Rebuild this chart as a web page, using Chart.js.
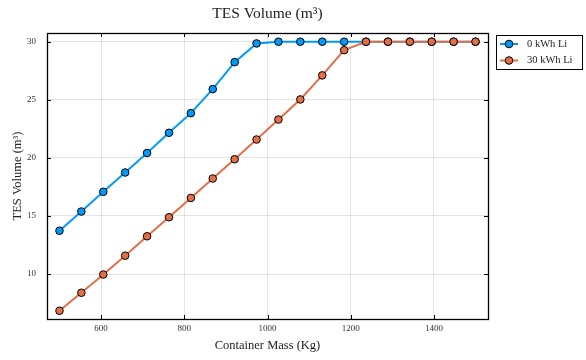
<!DOCTYPE html>
<html>
<head>
<meta charset="utf-8">
<title>TES Volume</title>
<script src="https://cdn.jsdelivr.net/npm/chart.js@4"></script>
<style>
    body { margin: 0; background: #ffffff; }
    #wrap { width: 586px; height: 360px; }
</style>
</head>
<body>
<div id="wrap"><canvas id="tesChart" width="586" height="360"></canvas></div>
<script>

// ======================================================
// Data
// ======================================================

const containerMass = [
    500, 552.6, 605.3, 657.9, 710.5, 763.2, 815.8, 868.4, 921.1, 973.7,
    1026.3, 1078.9, 1131.6, 1184.2, 1236.8, 1289.5, 1342.1, 1394.7, 1447.4, 1500
];

const volume0kWh = [
    13.73, 15.38, 17.08, 18.74, 20.42, 22.16, 23.85, 25.92, 28.24, 29.85,
    30, 30, 30, 30, 30, 30, 30, 30, 30, 30
];

const volume30kWh = [
    6.84, 8.39, 9.96, 11.58, 13.25, 14.89, 16.55, 18.22, 19.88, 21.58,
    23.3, 25.03, 27.1, 29.27, 30, 30, 30, 30, 30, 30
];

const seriesNames = ["0 kWh Li", "30 kWh Li"];

const xTicks = [600, 800, 1000, 1200, 1400];
const yTicks = [10, 15, 20, 25, 30];

// ======================================================
// Helpers
// ======================================================

const FONT = "'Liberation Serif', 'DejaVu Serif', serif";

function toPoints(xs, ys) {
    return xs.map((x, i) => ({ x: x, y: ys[i] }));
}

// title centred over the plot box
const titlePlugin = {
    id: "plotTitle",
    afterDraw(chart) {
        const ctx = chart.ctx;
        const a = chart.chartArea;
        ctx.save();
        ctx.fillStyle = "#222";
        ctx.font = "15.5px " + FONT;
        ctx.textAlign = "center";
        ctx.textBaseline = "middle";
        ctx.fillText("TES Volume (m³)", (a.left + a.right) / 2, 14);
        ctx.restore();
    }
};

// box frame with inward ticks on all sides
const framePlugin = {
    id: "frameBox",
    afterDatasetsDraw(chart) {
        const ctx = chart.ctx;
        const a = chart.chartArea;
        const xs = chart.scales.x;
        const ys = chart.scales.y;
        ctx.save();
        ctx.strokeStyle = "#000";
        ctx.lineWidth = 1;
        ctx.beginPath();
        xTicks.forEach(v => {
            let px = Math.round(xs.getPixelForValue(v)) + 0.5;
            ctx.moveTo(px, a.bottom); ctx.lineTo(px, a.bottom - 4);
            ctx.moveTo(px, a.top); ctx.lineTo(px, a.top + 4);
        });
        yTicks.forEach(v => {
            let py = Math.round(ys.getPixelForValue(v)) + 0.5;
            ctx.moveTo(a.left, py); ctx.lineTo(a.left + 4, py);
            ctx.moveTo(a.right, py); ctx.lineTo(a.right - 4, py);
        });
        ctx.stroke();
        ctx.lineWidth = 1.3;
        ctx.strokeRect(Math.round(a.left) + 0.5, Math.round(a.top) + 0.5,
            Math.round(a.right - a.left), Math.round(a.bottom - a.top));
        ctx.restore();
    }
};

// legend box at top right
const legendPlugin = {
    id: "boxLegend",
    afterDraw(chart) {
        const ctx = chart.ctx;
        const bx = 496.5, by = 35.5, bw = 86, bh = 34;
        ctx.save();
        ctx.fillStyle = "#fff";
        ctx.fillRect(bx, by, bw, bh);
        ctx.strokeStyle = "#000";
        ctx.lineWidth = 1;
        ctx.strokeRect(bx, by, bw, bh);
        chart.data.datasets.forEach((ds, i) => {
            let y = 44 + i * 16.5;
            ctx.strokeStyle = ds.borderColor;
            ctx.lineWidth = 2;
            ctx.beginPath();
            ctx.moveTo(500, y);
            ctx.lineTo(518, y);
            ctx.stroke();
            ctx.beginPath();
            ctx.arc(509, y, 3.8, 0, Math.PI * 2);
            ctx.fillStyle = ds.pointBackgroundColor;
            ctx.fill();
            ctx.lineWidth = 1;
            ctx.strokeStyle = "#000";
            ctx.stroke();
            ctx.fillStyle = "#222";
            ctx.font = "10.5px " + FONT;
            ctx.textAlign = "left";
            ctx.textBaseline = "middle";
            ctx.fillText(ds.label, 527, y);
        });
        ctx.restore();
    }
};

// ======================================================
// Chart
// ======================================================

function createVolumeChart() {

    let ctx = document.getElementById("tesChart");

    if (!ctx) return;

    Chart.defaults.font.family = FONT;
    Chart.defaults.color = "#333";

    new Chart(ctx, {

        type: "line",

        data: {

            datasets: [
                {
                    label: seriesNames[0],
                    data: toPoints(containerMass, volume0kWh),
                    borderColor: "#009AFA",
                    pointBackgroundColor: "#009AFA",
                    pointBorderColor: "#000",
                    pointBorderWidth: 1,
                    pointRadius: 3.8,
                    borderWidth: 2,
                    tension: 0,
                    order: 1
                },
                {
                    label: seriesNames[1],
                    data: toPoints(containerMass, volume30kWh),
                    borderColor: "#E36F47",
                    pointBackgroundColor: "#E36F47",
                    pointBorderColor: "#000",
                    pointBorderWidth: 1,
                    pointRadius: 3.8,
                    borderWidth: 2,
                    tension: 0,
                    order: 0
                }
            ]

        },

        options: {

            responsive: false,
            animation: false,
            clip: false,

            layout: {
                padding: { left: 0, right: 98, top: 33, bottom: 0 }
            },

            plugins: {
                legend: { display: false },
                tooltip: { enabled: false }
            },

            scales: {
                x: {
                    type: "linear",
                    min: 470,
                    max: 1530,
                    afterBuildTicks: s => { s.ticks = xTicks.map(v => ({ value: v })); },
                    afterFit: s => { s.height = 41; },
                    grid: { color: "rgba(0,0,0,0.1)", drawTicks: false },
                    border: { display: false },
                    ticks: {
                        font: { size: 9 },
                        padding: 4,
                        maxRotation: 0,
                        color: "#333",
                        callback: v => String(v)
                    },
                    title: {
                        display: true,
                        text: "Container Mass (Kg)",
                        font: { size: 12.5 },
                        color: "#222",
                        padding: { top: 0, bottom: 7 }
                    }
                },
                y: {
                    type: "linear",
                    min: 6.13,
                    max: 30.75,
                    afterBuildTicks: s => { s.ticks = yTicks.map(v => ({ value: v })); },
                    afterFit: s => { s.width = 47; },
                    grid: { color: "rgba(0,0,0,0.1)", drawTicks: false },
                    border: { display: false },
                    ticks: {
                        font: { size: 9 },
                        padding: 11,
                        color: "#333",
                        callback: v => String(v)
                    },
                    title: {
                        display: true,
                        text: "TES Volume (m³)",
                        font: { size: 12.5 },
                        color: "#222",
                        padding: { top: 10, bottom: 0 }
                    }
                }
            }

        },

        plugins: [titlePlugin, framePlugin, legendPlugin]

    });

}

document.addEventListener("DOMContentLoaded", function () {
    createVolumeChart();
});

</script>
</body>
</html>
